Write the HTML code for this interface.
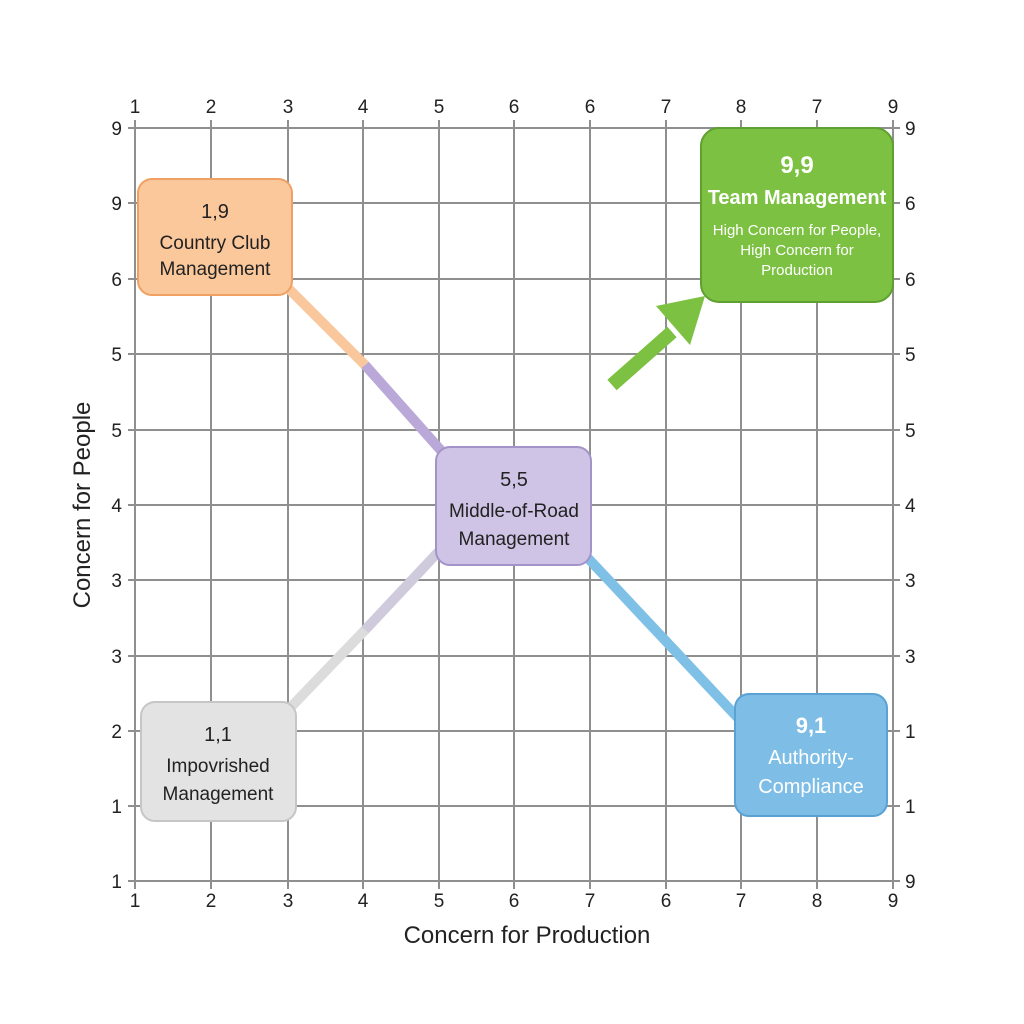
<!DOCTYPE html>
<html><head><meta charset="utf-8"><style>
html,body{margin:0;padding:0;background:#fff;}
svg{display:block;}
text{font-family:"Liberation Sans",sans-serif;}
</style></head><body>
<svg width="1024" height="1024" viewBox="0 0 1024 1024">
<rect width="1024" height="1024" fill="#fff"/>
<g stroke="#8f8f8f" stroke-width="2">
<line x1="135" y1="120" x2="135" y2="889"/><line x1="211" y1="120" x2="211" y2="889"/><line x1="288" y1="120" x2="288" y2="889"/><line x1="363" y1="120" x2="363" y2="889"/><line x1="439" y1="120" x2="439" y2="889"/><line x1="514" y1="120" x2="514" y2="889"/><line x1="590" y1="120" x2="590" y2="889"/><line x1="666" y1="120" x2="666" y2="889"/><line x1="741" y1="120" x2="741" y2="889"/><line x1="817" y1="120" x2="817" y2="889"/><line x1="893" y1="120" x2="893" y2="889"/>
<line x1="128" y1="128" x2="900" y2="128"/><line x1="128" y1="203" x2="900" y2="203"/><line x1="128" y1="279" x2="900" y2="279"/><line x1="128" y1="354" x2="900" y2="354"/><line x1="128" y1="430" x2="900" y2="430"/><line x1="128" y1="505" x2="900" y2="505"/><line x1="128" y1="580" x2="900" y2="580"/><line x1="128" y1="656" x2="900" y2="656"/><line x1="128" y1="731" x2="900" y2="731"/><line x1="128" y1="806" x2="900" y2="806"/><line x1="128" y1="881" x2="900" y2="881"/>
</g>
<g font-size="19" fill="#222" text-anchor="middle">
<text x="135" y="113">1</text><text x="211" y="113">2</text><text x="288" y="113">3</text><text x="363" y="113">4</text><text x="439" y="113">5</text><text x="514" y="113">6</text><text x="590" y="113">6</text><text x="666" y="113">7</text><text x="741" y="113">8</text><text x="817" y="113">7</text><text x="893" y="113">9</text>
<text x="135" y="907">1</text><text x="211" y="907">2</text><text x="288" y="907">3</text><text x="363" y="907">4</text><text x="439" y="907">5</text><text x="514" y="907">6</text><text x="590" y="907">7</text><text x="666" y="907">6</text><text x="741" y="907">7</text><text x="817" y="907">8</text><text x="893" y="907">9</text>
</g>
<g font-size="19" fill="#222" text-anchor="end">
<text x="122" y="135">9</text><text x="122" y="210">9</text><text x="122" y="286">6</text><text x="122" y="361">5</text><text x="122" y="437">5</text><text x="122" y="512">4</text><text x="122" y="587">3</text><text x="122" y="663">3</text><text x="122" y="738">2</text><text x="122" y="813">1</text><text x="122" y="888">1</text>
</g>
<g font-size="19" fill="#222" text-anchor="start">
<text x="905" y="135">9</text><text x="905" y="210">6</text><text x="905" y="286">6</text><text x="905" y="361">5</text><text x="905" y="437">5</text><text x="905" y="512">4</text><text x="905" y="587">3</text><text x="905" y="663">3</text><text x="905" y="738">1</text><text x="905" y="813">1</text><text x="905" y="888">9</text>
</g>
<text x="527" y="943" font-size="24" fill="#222" text-anchor="middle">Concern for Production</text>
<text transform="translate(90,505) rotate(-90)" font-size="24" fill="#222" text-anchor="middle">Concern for People</text>
<g stroke-width="10" stroke-linecap="butt">
<line x1="288" y1="288" x2="365" y2="365" stroke="#f9c79c"/>
<line x1="365" y1="365" x2="445" y2="455" stroke="#b9a8d8"/>
<line x1="290" y1="708" x2="365" y2="630" stroke="#dcdcdc"/>
<line x1="365" y1="630" x2="442" y2="548" stroke="#cfcadc"/>
<line x1="585" y1="555" x2="738" y2="718" stroke="#7fc0e6"/>
</g>
<line x1="612" y1="385" x2="672" y2="332" stroke="#7cc142" stroke-width="14"/>
<polygon points="705,296 656,306 690,345" fill="#7cc142"/>
<rect x="701" y="128" width="192" height="174" rx="18" fill="#7cc142" stroke="#5fa030" stroke-width="2"/>
<text x="797" y="173" font-size="24" font-weight="bold" fill="#fff" text-anchor="middle">9,9</text>
<text x="797" y="204" font-size="20" font-weight="bold" fill="#fff" text-anchor="middle">Team Management</text>
<text x="797" y="235" font-size="15" fill="#fff" text-anchor="middle">High Concern for People,</text>
<text x="797" y="255" font-size="15" fill="#fff" text-anchor="middle">High Concern for</text>
<text x="797" y="275" font-size="15" fill="#fff" text-anchor="middle">Production</text>
<rect x="138" y="179" width="154" height="116" rx="14" fill="#fbc89b" stroke="#f0a062" stroke-width="2"/>
<text x="215" y="218" font-size="20" fill="#222" text-anchor="middle">1,9</text>
<text x="215" y="249" font-size="19" fill="#222" text-anchor="middle">Country Club</text>
<text x="215" y="275" font-size="19" fill="#222" text-anchor="middle">Management</text>
<rect x="436" y="447" width="155" height="118" rx="14" fill="#cfc4e5" stroke="#a393c9" stroke-width="2"/>
<text x="514" y="486" font-size="20" fill="#222" text-anchor="middle">5,5</text>
<text x="514" y="517" font-size="19" fill="#222" text-anchor="middle">Middle-of-Road</text>
<text x="514" y="545" font-size="19" fill="#222" text-anchor="middle">Management</text>
<rect x="141" y="702" width="155" height="119" rx="14" fill="#e3e3e3" stroke="#c6c6c6" stroke-width="2"/>
<text x="218" y="741" font-size="20" fill="#222" text-anchor="middle">1,1</text>
<text x="218" y="772" font-size="19" fill="#222" text-anchor="middle">Impovrished</text>
<text x="218" y="800" font-size="19" fill="#222" text-anchor="middle">Management</text>
<rect x="735" y="694" width="152" height="122" rx="14" fill="#7dbde6" stroke="#5aa2d3" stroke-width="2"/>
<text x="811" y="733" font-size="22" font-weight="bold" fill="#fff" text-anchor="middle">9,1</text>
<text x="811" y="764" font-size="20" fill="#fff" text-anchor="middle">Authority-</text>
<text x="811" y="793" font-size="20" fill="#fff" text-anchor="middle">Compliance</text>
</svg>
</body></html>
